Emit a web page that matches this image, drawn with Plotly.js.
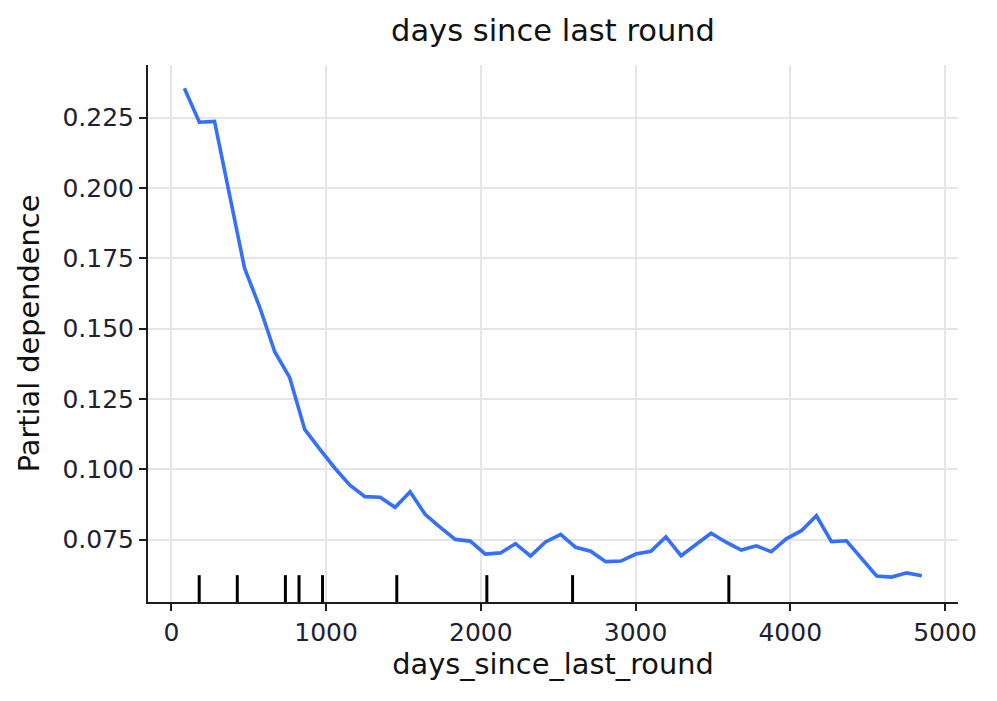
<!DOCTYPE html>
<html>
<head>
<meta charset="utf-8">
<script src="https://cdn.plot.ly/plotly-3.0.1.min.js"></script>
<style>html,body{margin:0;padding:0;background:#fff;}#chart{width:997px;height:701px;}</style>
</head>
<body>
<div id="chart"></div>
<script>
// Grid of feature values (days since last round)
const gridDays = [84, 181, 279, 376, 473, 570, 668, 765, 862, 959,
  1057, 1154, 1251, 1349, 1446, 1543, 1640, 1738, 1835, 1932,
  2029, 2127, 2224, 2321, 2418, 2516, 2613, 2710, 2807, 2905,
  3002, 3099, 3196, 3294, 3391, 3488, 3585, 3683, 3780, 3877,
  3974, 4072, 4169, 4266, 4363, 4461, 4558, 4655, 4752, 4850];
// Partial dependence values
const partialDep = [0.2355, 0.2234, 0.2237, 0.1975, 0.1715, 0.1578, 0.1418, 0.1326, 0.1142, 0.1072,
  0.1004, 0.0944, 0.0903, 0.0901, 0.0865, 0.0920, 0.0840, 0.0794, 0.0751, 0.0745,
  0.0699, 0.0703, 0.0736, 0.0692, 0.0742, 0.0769, 0.0723, 0.0709, 0.0672, 0.0674,
  0.0699, 0.0709, 0.0760, 0.0693, 0.0735, 0.0773, 0.0741, 0.0713, 0.0728, 0.0707,
  0.0753, 0.0782, 0.0835, 0.0743, 0.0746, 0.0684, 0.0621, 0.0617, 0.0632, 0.0622];
// Deciles of the feature (rug marks)
const deciles = [180, 426, 737, 825, 977, 1457, 2039, 2593, 3603];
const xTickVals = [0, 1000, 2000, 3000, 4000, 5000];
const yTickVals = [0.075, 0.100, 0.125, 0.150, 0.175, 0.200, 0.225];

const FONT = 'DejaVu Sans, sans-serif';
const TXT = '#1e2230';

const trace = {
  x: gridDays, y: partialDep, type: 'scatter', mode: 'lines',
  line: {color: '#3470fb', width: 3.6}, hoverinfo: 'x+y', showlegend: false
};

const shapes = deciles.map(d => ({
  type: 'line', xref: 'x', yref: 'y domain', x0: d, x1: d, y0: 0, y1: 0.05,
  line: {color: '#000', width: 3}
}));

const layout = {
  width: 997, height: 701,
  margin: {l: 148, r: 39, t: 65, b: 99},
  paper_bgcolor: '#fff', plot_bgcolor: '#fff',
  font: {family: FONT, color: TXT, size: 25},
  title: {text: 'days since last round', font: {family: FONT, size: 30.5, color: '#111'},
          x: 0.5, xref: 'paper', xanchor: 'center', y: 0.957, yref: 'container', yanchor: 'middle'},
  xaxis: {
    range: [-151, 5084], tickvals: xTickVals, ticktext: xTickVals.map(String),
    showgrid: true, gridcolor: '#e4e4ea', gridwidth: 2,
    showline: true, linecolor: '#1a1d26', linewidth: 2, mirror: false,
    ticks: 'outside', ticklen: 7, tickwidth: 2, tickcolor: '#1a1d26',
    tickfont: {family: FONT, size: 25, color: TXT}, zeroline: false,
    title: {text: 'days_since_last_round', font: {family: FONT, size: 28.8, color: '#111'}, standoff: 8},
    automargin: false
  },
  yaxis: {
    range: [0.05285, 0.24373], tickvals: yTickVals, ticktext: yTickVals.map(v => v.toFixed(3)),
    showgrid: true, gridcolor: '#e4e4ea', gridwidth: 2,
    showline: true, linecolor: '#1a1d26', linewidth: 2, mirror: false,
    ticks: 'outside', ticklen: 7, tickwidth: 2, tickcolor: '#1a1d26',
    tickfont: {family: FONT, size: 25, color: TXT}, zeroline: false,
    title: {text: 'Partial dependence', font: {family: FONT, size: 28.8, color: '#111'}, standoff: 14},
    automargin: false
  },
  shapes: shapes
};

Plotly.newPlot('chart', [trace], layout, {displayModeBar: false, staticPlot: true});
</script>
</body>
</html>
